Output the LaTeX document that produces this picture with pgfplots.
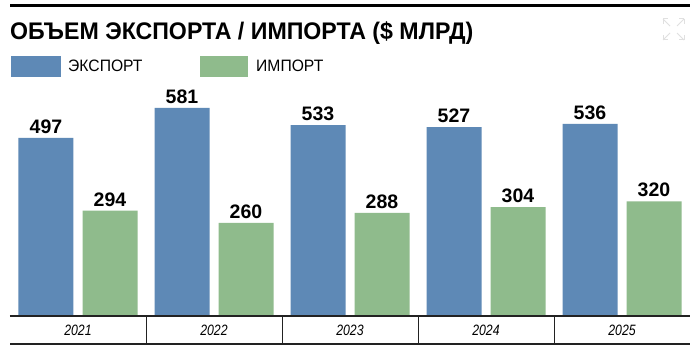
\documentclass[border=0pt]{standalone}
\usepackage{fontspec}
\setmainfont{Liberation Sans}
\usepackage{pgfplots}
\pgfplotsset{compat=1.18}
\definecolor{expblue}{HTML}{5E89B6}
\definecolor{impgreen}{HTML}{8FBB8C}
\definecolor{linegray}{HTML}{222222}
\begin{document}
\begin{tikzpicture}[x=1pt,y=1pt]
\path[fill=white] (0,0) rectangle (700,350);
% top rule
\fill[black] (10,342.5) rectangle (690,346);
% title
\node[anchor=base west, inner sep=0] at (10,310.5) {\scalebox{0.965}[1]{\fontsize{24}{24}\selectfont\bfseries ОБЪЕМ ЭКСПОРТА / ИМПОРТА (\$ МЛРД)}};
% icon
\begin{scope}[draw=black!12, line width=1pt]
\draw (663,331) -- (663,326); \draw (663,331) -- (668,331);
\draw (684,331) -- (684,326); \draw (684,331) -- (679,331);
\draw (663,310) -- (663,315); \draw (663,310) -- (668,310);
\draw (684,310) -- (684,315); \draw (684,310) -- (679,310);
\draw (663,331) -- (670,324); \draw (684,331) -- (677,324);
\draw (663,310) -- (670,317); \draw (684,310) -- (677,317);
\end{scope}
% legend
\fill[expblue] (11,273) rectangle (61,294);
\node[anchor=base west, inner sep=0] at (68,278) {\scalebox{0.95}[1]{\fontsize{16.5}{16.5}\selectfont ЭКСПОРТ}};
\fill[impgreen] (200,273) rectangle (248,294);
\node[anchor=base west, inner sep=0] at (256,278) {\scalebox{0.95}[1]{\fontsize{16.5}{16.5}\selectfont ИМПОРТ}};
\begin{axis}[
  at={(10pt,34pt)}, anchor=origin,
  scale only axis, width=680pt, height=225pt,
  xmin=0, xmax=5, ymin=0, ymax=628,
  axis line style={draw=none},
  ytick=\empty,
  xtick={0.5,1.5,2.5,3.5,4.5},
  xticklabels={2021,2022,2023,2024,2025},
  major tick length=0pt,
  /pgf/number format/assume math mode=true,
  xticklabel style={anchor=center, yshift=-14pt, font=\fontsize{15}{15}\selectfont\itshape, xscale=0.82},
  ybar=9pt, bar width=55pt,
  clip=false,
  nodes near coords,
  every node near coord/.append style={font=\fontsize{19.5}{19.5}\selectfont\bfseries, inner sep=0pt, anchor=south, yshift=4pt, text=black},
]
\addplot[fill=expblue, draw=none] coordinates {(0.5,497) (1.5,581) (2.5,533) (3.5,527) (4.5,536)};
\addplot[fill=impgreen, draw=none] coordinates {(0.5,294) (1.5,260) (2.5,288) (3.5,304) (4.5,320)};
\draw[linegray, line width=2pt] (axis cs:0,0) -- (axis cs:5,0);
\end{axis}
% table lines
\draw[linegray, line width=1.6pt] (10,6) -- (690,6);
\foreach \xx in {146,282,418,554} {\draw[linegray, line width=0.9pt] (\xx,34) -- (\xx,6);}
\end{tikzpicture}
\end{document}
